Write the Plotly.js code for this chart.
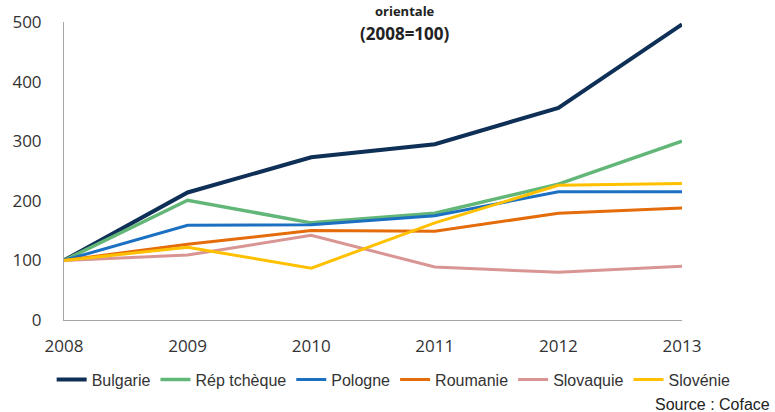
<!DOCTYPE html>
<html>
<head>
<meta charset="utf-8">
<script src="https://cdn.plot.ly/plotly-3.0.1.min.js"></script>
<style>html,body{margin:0;padding:0;background:#fff;}#chart{width:775px;height:412px;}</style>
</head>
<body>
<div id="chart"></div>
<script>
var years = ['2008', '2009', '2010', '2011', '2012', '2013'];
var bulgarie = [100, 214, 273, 295, 356, 496];
var repTcheque = [100, 201, 163, 179, 228, 300];
var pologne = [100, 159, 160, 175, 215, 215];
var roumanie = [100, 127, 150, 149, 179, 188];
var slovaquie = [100, 109, 142, 89, 80, 90];
var slovenie = [100, 122, 87, 163, 226, 229];
var seriesNames = ['Bulgarie', 'Rép tchèque', 'Pologne', 'Roumanie', 'Slovaquie', 'Slovénie'];
var yTicks = [0, 100, 200, 300, 400, 500];

var colors = ['#0e2f56', '#62b677', '#1b70c2', '#e46c0a', '#d99593', '#ffc000'];
var widths = [4, 3.5, 3, 3, 3, 3];
var data = [bulgarie, repTcheque, pologne, roumanie, slovaquie, slovenie];

var traces = data.map(function (vals, i) {
  return {
    x: years, y: vals, name: seriesNames[i], type: 'scatter', mode: 'lines',
    line: {color: colors[i], width: widths[i]}, cliponaxis: false
  };
});

var layout = {
  width: 775, height: 412,
  margin: {l: 64, r: 93, t: 22, b: 92},
  paper_bgcolor: '#fff', plot_bgcolor: '#fff',
  showlegend: true,
  font: {family: 'Liberation Sans, Arial, sans-serif', color: '#333'},
  xaxis: {
    type: 'category', range: [0, 5], showgrid: false, zeroline: false,
    showline: true, linecolor: '#a6a6a6', linewidth: 1, ticks: '',
    ticklabelstandoff: 11,
    tickfont: {family: 'Open Sans, sans-serif', size: 17, color: '#333'}
  },
  yaxis: {
    range: [0, 500], tickvals: yTicks, showgrid: false, zeroline: false,
    showline: true, linecolor: '#a6a6a6', linewidth: 1, ticks: '',
    ticklabelstandoff: 18,
    tickfont: {family: 'Open Sans, sans-serif', size: 17, color: '#333'}
  },
  legend: {
    orientation: 'h', x: -0.02, xanchor: 'left', y: -0.2, yanchor: 'middle',
    font: {family: 'Liberation Sans, Arial, sans-serif', size: 16, color: '#333'},
    itemwidth: 30, traceorder: 'normal', tracegroupgap: 0
  },
  annotations: [
    {text: '<b>orientale</b>', xref: 'paper', yref: 'paper', x: 0.552, y: 1.0738,
     xanchor: 'center', yanchor: 'top', showarrow: false,
     font: {family: 'Open Sans, sans-serif', size: 13, color: '#222'}},
    {text: '<b>(2008=100)</b>', xref: 'paper', yref: 'paper', x: 0.552, y: 0.963,
     xanchor: 'center', yanchor: 'middle', showarrow: false,
     font: {family: 'Open Sans, sans-serif', size: 17, color: '#222'}},
    {text: 'Source : Coface', xref: 'paper', yref: 'paper', x: 1.145, y: -0.283,
     xanchor: 'right', yanchor: 'middle', showarrow: false,
     font: {family: 'Liberation Sans, Arial, sans-serif', size: 16, color: '#222'}}
  ]
};

Plotly.newPlot('chart', traces, layout, {displayModeBar: false, staticPlot: true});
</script>
</body>
</html>
